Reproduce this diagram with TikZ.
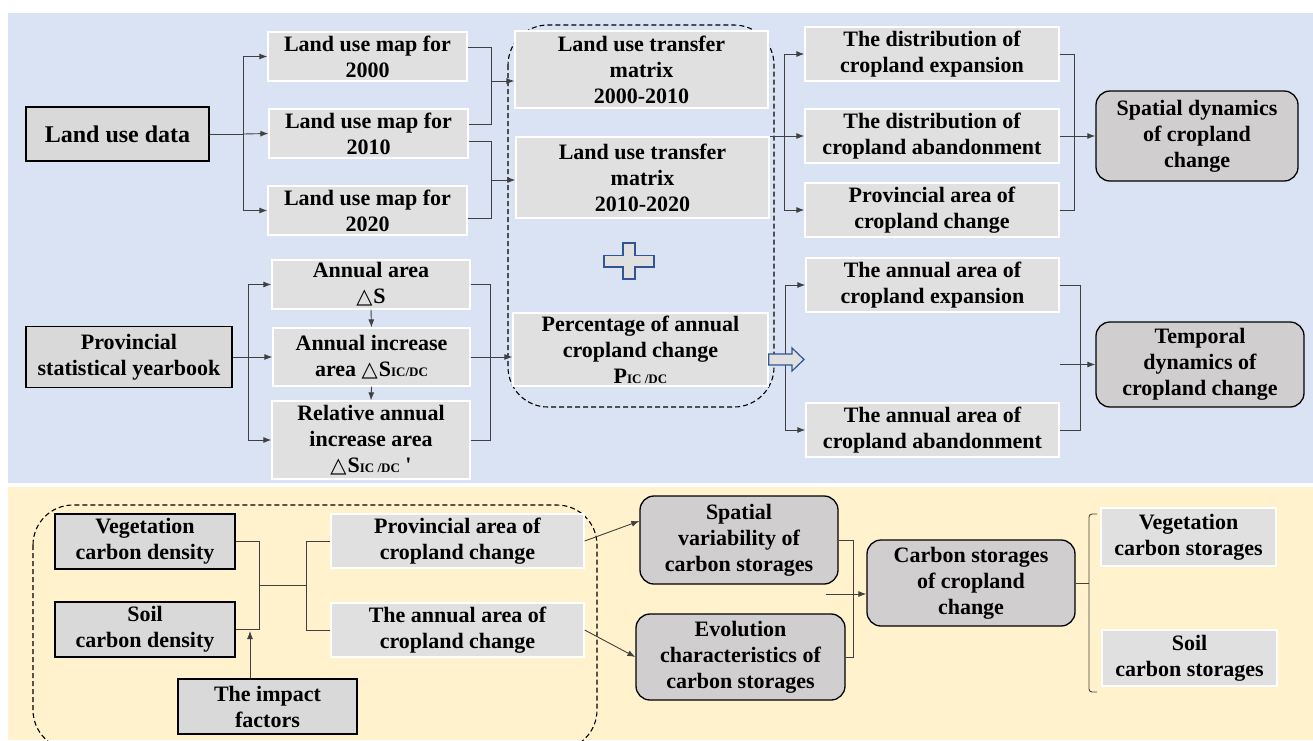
\documentclass[tikz,border=0pt]{standalone}
\usepackage{fontspec}
\setmainfont{Liberation Serif}
\newfontfamily\symf{DejaVu Sans}
\usetikzlibrary{calc,arrows.meta}
\definecolor{bgblue}{HTML}{DAE3F3}
\definecolor{bgyel}{HTML}{FFF2CC}
\definecolor{darkfill}{HTML}{D9D9D9}
\definecolor{roundfill}{HTML}{D0CECE}
\definecolor{lightfill}{HTML}{E0E0E0}
\definecolor{linec}{HTML}{404040}
\definecolor{blueedge}{HTML}{2F5597}
\newcommand\subtx[1]{{\fontsize{13}{13}\selectfont #1}}
\newcommand\tri{{\symf\mdseries\fontsize{21}{21}\selectfont △}\kern1pt}
\begin{document}
\begin{tikzpicture}[x=1pt,y=-1pt,
 every node/.style={font=\fontsize{22}{26}\selectfont\bfseries, align=center, inner sep=0pt},
 darkbox/.style={draw=black, line width=1.3pt, fill=darkfill},
 lightbox/.style={draw=white, line width=1.3pt, fill=lightfill},
 roundbox/.style={draw=black, line width=1.3pt, fill=roundfill, rounded corners=14pt},
 conn/.style={draw=linec, line width=0.9pt},
 arr/.style={conn, -{Latex[length=8pt,width=6pt]}},
 grp/.style={draw=black, line width=1.1pt, dash pattern=on 5pt off 3pt, rounded corners=40pt},
 deco/.style={draw=blueedge, line width=1.2pt, fill=lightfill},
 sz/.style 2 args={minimum width=#1pt, minimum height=#2pt}
]
\useasboundingbox (0,0) rectangle (1313,740);
\fill[white] (0,0) rectangle (1313,740);
\fill[bgblue] (8,13) rectangle (1313,483);
\fill[bgyel] (8,487) rectangle (1313,740);

% dashed groups
\draw[grp] (508,25) rectangle (774,407);
\draw[grp] (33,505) rectangle (597,750);

% ---------- top section ----------
\node[darkbox, sz={183}{54}, font=\fontsize{24}{28}\selectfont\bfseries] (lud) at (117.5,134) {Land use data};
\node[lightbox, sz={199}{49}] (m2000) at (367.5,56.5) {Land use map for\\2000};
\node[lightbox, sz={199}{49}] (m2010) at (368.5,133.5) {Land use map for\\2010};
\node[lightbox, sz={199}{49}] (m2020) at (367.5,210.5) {Land use map for\\2020};

\node[lightbox, sz={253}{77}] (tm1) at (641.5,69.5) {Land use transfer\\matrix\\2000-2010};
\node[lightbox, sz={253}{81}] (tm2) at (642.5,177.5) {Land use transfer\\matrix\\2010-2020};
\node[lightbox, sz={255}{73}] (pct) at (640.5,349.5) {Percentage of annual\\cropland change\\P\subtx{IC /DC}};

\node[lightbox, sz={254}{54}] (de) at (932,54) {The distribution of\\cropland expansion};
\node[lightbox, sz={254}{54}] (da) at (932,136) {The distribution of\\cropland abandonment};
\node[lightbox, sz={254}{54}] (pa) at (932,210) {Provincial area of\\cropland change};
\node[roundbox, sz={202}{90}] (sd) at (1197,136) {Spatial dynamics\\of cropland\\change};

\node[lightbox, sz={253}{54}] (ae) at (932.5,285) {The annual area of\\cropland expansion};
\node[lightbox, sz={253}{54}] (ab) at (932.5,430) {The annual area of\\cropland abandonment};
\node[roundbox, sz={208}{85}] (td) at (1200,364.5) {Temporal\\dynamics of\\cropland change};

\node[darkbox, sz={206}{61}] (psy) at (129,357) {Provincial\\statistical yearbook};
\node[lightbox, sz={198}{49}] (aa) at (371,284.5) {Annual area\\\tri S};
\node[lightbox, sz={197}{58}] (ai) at (371.5,357) {Annual increase\\area \tri S\subtx{IC/DC}};
\node[lightbox, sz={198}{78}] (ra) at (371,440) {Relative annual\\increase area\\\tri S\subtx{IC /DC} \textquotesingle};

% plus sign
\draw[deco] (623,243) -- (635,243) -- (635,255.5) -- (654,255.5) -- (654,267) -- (635,267) -- (635,279) -- (623,279) -- (623,267) -- (604,267) -- (604,255.5) -- (623,255.5) -- cycle;

% connectors top-left
\coordinate (j1) at (243,134);
\draw[conn] (lud.east) -- (j1);
\draw[arr] (j1) |- (m2000.west);
\draw[arr] (j1) -- (m2010.west);
\draw[arr] (j1) |- (m2020.west);

\draw[conn] ($(m2000.east)+(0,-9.5)$) -- ++(24,0) |- ($(m2010.east)+(0,-9.5)$);
\coordinate (k1) at (491,81);
\draw[arr] (k1) -- (k1 -| tm1.west);
\draw[conn] ($(m2010.east)+(0,7.5)$) -- ++(23,0) |- ($(m2020.east)+(0,7.5)$);
\coordinate (k2) at (491,180);
\draw[arr] (k2) -- (k2 -| tm2.west);

% connectors to spatial
\coordinate (s0) at (770,136);
\coordinate (sj) at (784,136);
\draw[arr] (s0) -- (da.west);
\draw[arr] (sj) |- (de.west);
\draw[arr] (sj) |- (pa.west);
\draw[conn] (de.east) -- ++(15,0) |- (pa.east);
\draw[arr] (da.east) -- (sd.west);

% connectors provincial yearbook
\coordinate (j2) at (248,357);
\draw[conn] (psy.east) -- (j2);
\draw[arr] (j2) |- (aa.west);
\draw[arr] (j2) -- (ai.west);
\draw[arr] (j2) |- (ra.west);
\draw[arr] (aa.south) -- (ai.north);
\draw[arr] (ai.south) -- (ra.north);
\draw[conn] (aa.east) -- ++(20,0) |- (ra.east);
\draw[arr] (ai.east) -- (ai.east -| pct.west);

% temporal
\coordinate (tj) at (785,360);
\draw[arr] (tj) |- (ae.west);
\draw[arr] (tj) |- (ab.west);
\draw[deco] (pct.east |- 0,354) -- (792,354) -- (792,348) -- (804,359.5) -- (792,371) -- (792,365) -- (pct.east |- 0,365) -- cycle;
\draw[conn] (ae.east) -- ++(21,0) |- (ab.east);
\coordinate (t0) at (1060,364.5);
\draw[arr] (t0) -- (td.west);

% ---------- bottom section ----------
\node[darkbox, sz={180}{55}] (vcd) at (145,541.5) {Vegetation\\carbon density};
\node[darkbox, sz={180}{55}] (scd) at (145,629.5) {Soil\\carbon density};
\node[darkbox, sz={179}{55}] (imp) at (267.5,706.5) {The impact\\factors};
\node[lightbox, sz={253}{54}] (bpa) at (457.5,541) {Provincial area of\\cropland change};
\node[lightbox, sz={253}{54}] (baa) at (457.5,630) {The annual area of\\cropland change};
\node[roundbox, sz={198}{88}] (svc) at (739,540) {Spatial\\variability of\\carbon storages};
\node[roundbox, sz={209}{86}] (ecs) at (740.5,657) {Evolution\\characteristics of\\carbon storages};
\node[roundbox, sz={208}{86}] (csc) at (971,583) {Carbon storages\\of cropland\\change};
\node[lightbox, sz={175}{58}] (vcs) at (1188.5,537) {Vegetation\\carbon storages};
\node[lightbox, sz={175}{56}] (scs) at (1189.5,658) {Soil\\carbon storages};

\draw[conn] (vcd.east) -- ++(24,0) |- (scd.east);
\coordinate (b1) at (259,585);
\coordinate (b2) at (307,585);
\draw[conn] (b1) -- (b2);
\draw[conn] (bpa.west) -- ++(-24,0) |- (baa.west);
\coordinate (ia) at (250,631);
\draw[arr] (imp.north -| ia) -- (ia);
\draw[arr] (bpa.east) -- ($(svc.west)+(0,-19)$);
\draw[arr] (baa.east) -- (ecs.west);
\draw[conn] (svc.east) -- ++(15,0) |- (ecs.east);
\coordinate (c0) at (826,594);
\draw[arr] (c0) -- (c0 -| csc.west);
\coordinate (br) at (1089,583);
\draw[conn] (csc.east) -- (br);
\draw[conn, rounded corners=3pt] (1097,514) -- (1089,514) -- (1089,692) -- (1097,692);
\end{tikzpicture}
\end{document}
